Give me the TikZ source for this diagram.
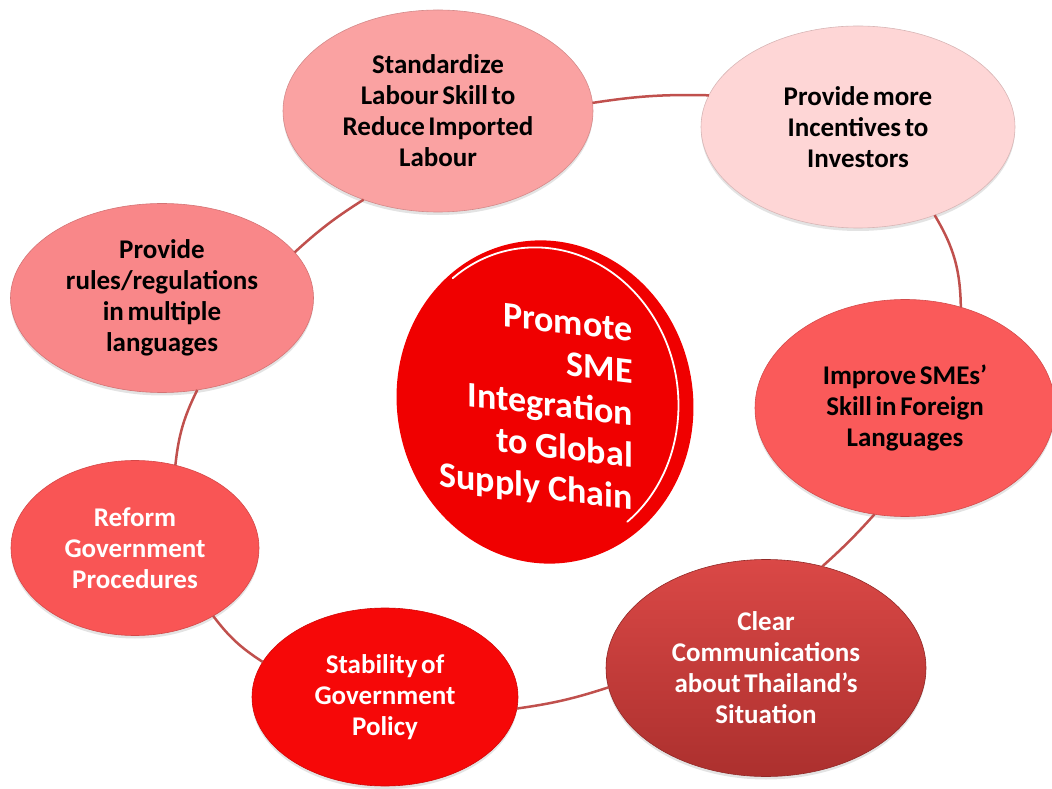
\documentclass[tikz,border=0pt]{standalone}
\usepackage{fontspec}
\setmainfont{Carlito}
\newfontfamily\bubfont{Carlito}[WordSpace=0.6]
\usetikzlibrary{shapes.geometric,shadows}
\definecolor{stdc}{RGB}{250,162,162}
\definecolor{incc}{RGB}{254,214,214}
\definecolor{rulc}{RGB}{249,135,137}
\definecolor{impc}{RGB}{250,90,90}
\definecolor{rfmc}{RGB}{249,85,85}
\definecolor{clrtop}{RGB}{218,72,70}
\definecolor{clrbot}{RGB}{172,48,46}
\definecolor{stbc}{RGB}{246,8,8}
\definecolor{cenc}{RGB}{240,0,0}
\definecolor{linec}{RGB}{192,80,77}
\begin{document}
\begin{tikzpicture}[x=1pt,y=1pt,
  bub/.style={ellipse, inner sep=-40pt, outer sep=0pt, align=center,
    font=\bubfont\fontsize{27}{31}\selectfont\bfseries,
    drop shadow={shadow xshift=0pt,shadow yshift=-3pt,opacity=0.22}},
  dark/.style={text=black},
  light/.style={text=white},
  link/.style={draw=linec, line width=2.5pt}]
\useasboundingbox (0,0) rectangle (1052,788);

% central disc
\node[ellipse, fill=cenc, inner sep=0pt, minimum width=296pt, minimum height=324pt, rotate=10] (disc) at (545,386) {};
\draw[white, line width=1.8pt, line cap=round, rotate around={10:(540,388)}]
  ([shift={(118:138 and 153)}]540,388) arc[start angle=118, end angle=-62, x radius=138, y radius=153];
\node[anchor=east, align=right, text=white, yslant=-0.12, inner sep=0pt,
  font=\fontsize{36}{42}\selectfont\bfseries] (ctext) at (633,371)
  {Promote\\SME\\Integration\\to Global\\Supply Chain};

% bubbles
\node[bub, dark, fill=stdc, draw=stdc!85!black, line width=0.6pt, minimum width=310pt, minimum height=202pt] (std) at (438,677)
  {Standardize\\Labour Skill to\\Reduce Imported\\Labour};
\node[bub, dark, fill=incc, draw=incc!85!black, line width=0.6pt, minimum width=314pt, minimum height=202pt] (inc) at (858,661)
  {Provide more\\Incentives to\\Investors};
\node[bub, dark, fill=rulc, draw=rulc!85!black, line width=0.6pt, minimum width=303pt, minimum height=189pt] (rul) at (162,490)
  {Provide\\rules/regulations\\in multiple\\languages};
\node[bub, dark, fill=impc, draw=impc!85!black, line width=0.6pt, minimum width=300pt, minimum height=217pt] (imp) at (905,380)
  {Improve SMEs’\\Skill in Foreign\\Languages};
\node[bub, light, fill=rfmc, draw=rfmc!85!black, line width=0.6pt, minimum width=248pt, minimum height=175pt] (rfm) at (135,240)
  {Reform\\Government\\Procedures};
\node[bub, light, top color=clrtop, bottom color=clrbot, draw=clrbot!85!black, line width=0.6pt, minimum width=320pt, minimum height=217pt] (clr) at (766,120)
  {Clear\\Communications\\about Thailand’s\\Situation};
\node[bub, light, fill=stbc, draw=stbc!85!black, line width=0.6pt, minimum width=266pt, minimum height=178pt] (stb) at (385,91)
  {Stability of\\Government\\Policy};

% connectors
\draw[link] (std.3) to[bend left=5] (inc.168);
\draw[link] (inc.-49) to[bend left=15] (imp.61);
\draw[link] (imp.-106) to[bend left=3] (clr.61);
\draw[link] (clr.187) to[bend left=5] (stb.-5);
\draw[link] (stb.164) to[bend left=10] (rfm.-41);
\draw[link] (rfm.64) to[bend left=10] (rul.-69);
\draw[link] (rul.19) to[bend left=5] (std.-130);
\end{tikzpicture}
\end{document}
